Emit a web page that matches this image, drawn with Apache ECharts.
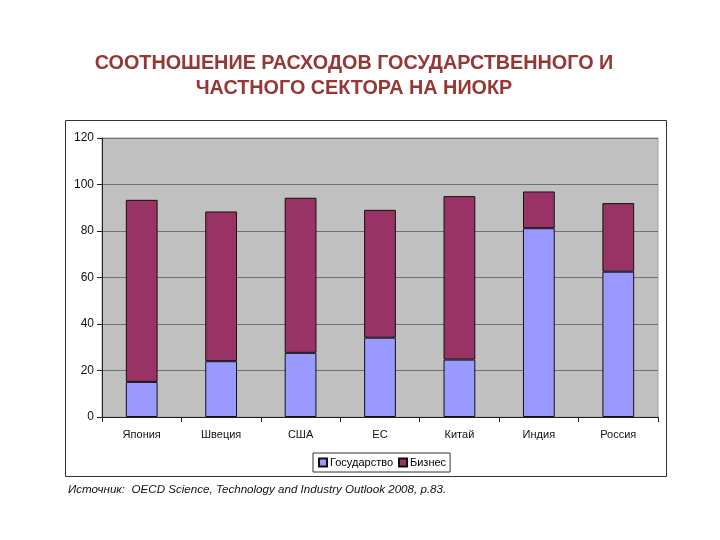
<!DOCTYPE html>
<html><head><meta charset="utf-8">
<script src="https://cdn.jsdelivr.net/npm/echarts@6/dist/echarts.min.js"></script>
<style>html,body{margin:0;padding:0;background:#fff}#c{width:720px;height:540px}</style>
</head><body><div id="c"></div>
<script>
const categories = ['Япония','Швеция','США','ЕС','Китай','Индия','Россия'];
const govValues = [15.1, 24.0, 27.6, 34.1, 24.7, 81.2, 62.5];
const bizValues = [78.3, 64.4, 66.7, 55.0, 70.3, 15.8, 29.5];
const yTicks = {min: 0, max: 120, interval: 20};

const chart = echarts.init(document.getElementById('c'), null, {renderer: 'canvas'});
chart.setOption({
  animation: false,
  backgroundColor: '#ffffff',
  title: {
    text: 'СООТНОШЕНИЕ РАСХОДОВ ГОСУДАРСТВЕННОГО И\nЧАСТНОГО СЕКТОРА НА НИОКР',
    left: 349, top: 46, textAlign: 'center',
    textStyle: {fontFamily: 'Liberation Sans, Arial, sans-serif', fontSize: 19.8, fontWeight: 'bold', color: '#953735', lineHeight: 25}
  },
  graphic: [
    {type: 'rect', shape: {x: 65.5, y: 120.5, width: 601, height: 356}, style: {fill: 'none', stroke: '#333', lineWidth: 1}, z: 0},
    {type: 'text', left: 68, top: 484, style: {text: 'Источник:  OECD Science, Technology and Industry Outlook 2008, p.83.', fontFamily: 'Liberation Sans Narrow, Arial Narrow, sans-serif', fontStyle: 'italic', fontSize: 11.6, fill: '#111'}}
  ],
  grid: {left: 102, right: 62, top: 138, bottom: 123, show: true, backgroundColor: '#c0c0c0', borderColor: '#a0a0a0', borderWidth: 1},
  legend: {
    data: ['Государство','Бизнес'], left: 313, top: 453,
    itemWidth: 8, itemHeight: 8, itemGap: 5, icon: 'rect',
    padding: [4, 4, 4, 5],
    borderColor: '#333', borderWidth: 1, backgroundColor: '#fff',
    textStyle: {fontFamily: 'Liberation Sans, Arial, sans-serif', fontSize: 11, color: '#000', padding: [0,0,0,-2]}
  },
  xAxis: {
    type: 'category', data: categories,
    axisLine: {lineStyle: {color: '#222'}},
    axisTick: {show: true, alignWithLabel: false, length: 5, lineStyle: {color: '#222'}},
    axisLabel: {fontFamily: 'Liberation Sans, Arial, sans-serif', fontSize: 11, color: '#111', margin: 12}
  },
  yAxis: {
    type: 'value', min: yTicks.min, max: yTicks.max, interval: yTicks.interval,
    axisLine: {show: true, lineStyle: {color: '#222'}},
    axisTick: {show: true, length: 5, lineStyle: {color: '#222'}},
    axisLabel: {fontFamily: 'Liberation Sans, Arial, sans-serif', fontSize: 12, color: '#111', margin: 8},
    splitLine: {lineStyle: {color: '#707070', width: 1}}
  },
  series: [
    {name: 'Государство', type: 'bar', stack: 's', data: govValues, barWidth: '40%',
     itemStyle: {color: '#9999ff', borderColor: '#111', borderWidth: 1}},
    {name: 'Бизнес', type: 'bar', stack: 's', data: bizValues, barWidth: '40%',
     itemStyle: {color: '#993366', borderColor: '#111', borderWidth: 1}}
  ]
});
</script></body></html>
